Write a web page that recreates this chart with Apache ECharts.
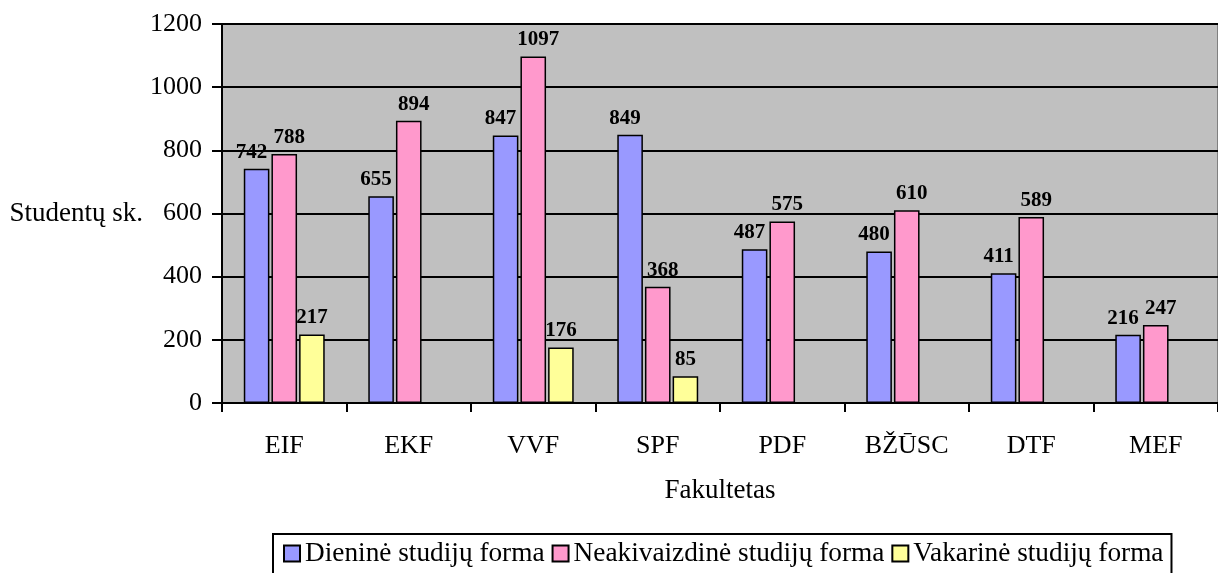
<!DOCTYPE html>
<html>
<head>
<meta charset="utf-8">
<script src="https://cdn.jsdelivr.net/npm/echarts@6/dist/echarts.min.js"></script>
<style>
  html, body { margin: 0; padding: 0; background: #fff; }
  #chart { width: 1218px; height: 573px; }
</style>
</head>
<body>
<div id="chart"></div>
<script>
const categories = ["EIF", "EKF", "VVF", "SPF", "PDF", "BŽŪSC", "DTF", "MEF"];
const dieninė = [742, 655, 847, 849, 487, 480, 411, 216];
const neakivaizdinė = [788, 894, 1097, 368, 575, 610, 589, 247];
const vakarinė = [217, null, 176, 85, null, null, null, null];
const yTicks = [0, 200, 400, 600, 800, 1000, 1200];

const font = "Liberation Serif";

function barSeries(name, data, color, dx) {
  return {
    name: name,
    type: "bar",
    data: data,
    barGap: "8%",
    barCategoryGap: "35%",
    itemStyle: { color: color, borderColor: "#000", borderWidth: 1.5 },
    label: {
      show: true,
      position: "top",
      distance: 6,
      offset: [dx, 0],
      color: "#000",
      fontFamily: font,
      fontWeight: "bold",
      fontSize: 21,
    },
  };
}

const chart = echarts.init(document.getElementById("chart"));
chart.setOption({
  animation: false,
  textStyle: { fontFamily: font, color: "#000" },
  grid: {
    left: 222,
    top: 24,
    right: -8,
    bottom: 170,
    show: true,
    backgroundColor: "#c0c0c0",
    borderColor: "#808080",
    borderWidth: 2,
  },
  legend: {
    top: 534,
    left: 273,
    orient: "horizontal",
    icon: "rect",
    borderColor: "#000",
    borderWidth: 2,
    padding: [6, 8, 12, 10],
    itemGap: 7,
    itemWidth: 16,
    itemHeight: 16,
    textStyle: { fontFamily: font, fontSize: 27.3, color: "#000" },
    itemStyle: { borderColor: "#000", borderWidth: 2 },
    data: ["Dieninė studijų forma", "Neakivaizdinė studijų forma", "Vakarinė studijų forma"],
  },
  xAxis: {
    type: "category",
    data: categories,
    name: "Fakultetas",
    nameLocation: "middle",
    nameGap: 74,
    nameTextStyle: { fontFamily: font, fontSize: 27, color: "#000" },
    axisLine: { lineStyle: { color: "#000", width: 2 } },
    axisTick: { show: true, length: 9, lineStyle: { color: "#000", width: 2 } },
    axisLabel: { margin: 30, fontFamily: font, fontSize: 26, color: "#000" },
  },
  yAxis: {
    type: "value",
    min: 0,
    max: 1200,
    interval: 200,
    name: "Studentų sk.",
    nameLocation: "middle",
    nameRotate: 0,
    nameGap: 79,
    nameTextStyle: { fontFamily: font, fontSize: 27, color: "#000", align: "right" },
    axisLine: { show: true, lineStyle: { color: "#000", width: 2 } },
    axisTick: { show: true, length: 10, lineStyle: { color: "#000", width: 2 } },
    axisLabel: {
      margin: 20,
      fontFamily: font,
      fontSize: 26,
      color: "#000",
      formatter: (v) => (yTicks.includes(v) ? String(v) : ""),
    },
    splitLine: { show: true, lineStyle: { color: "#000", width: 2 } },
  },
  series: [
    barSeries("Dieninė studijų forma", dieninė, "#9999ff", -5),
    barSeries("Neakivaizdinė studijų forma", neakivaizdinė, "#ff99cc", 5),
    barSeries("Vakarinė studijų forma", vakarinė, "#ffff99", 0),
  ],
});
</script>
</body>
</html>
